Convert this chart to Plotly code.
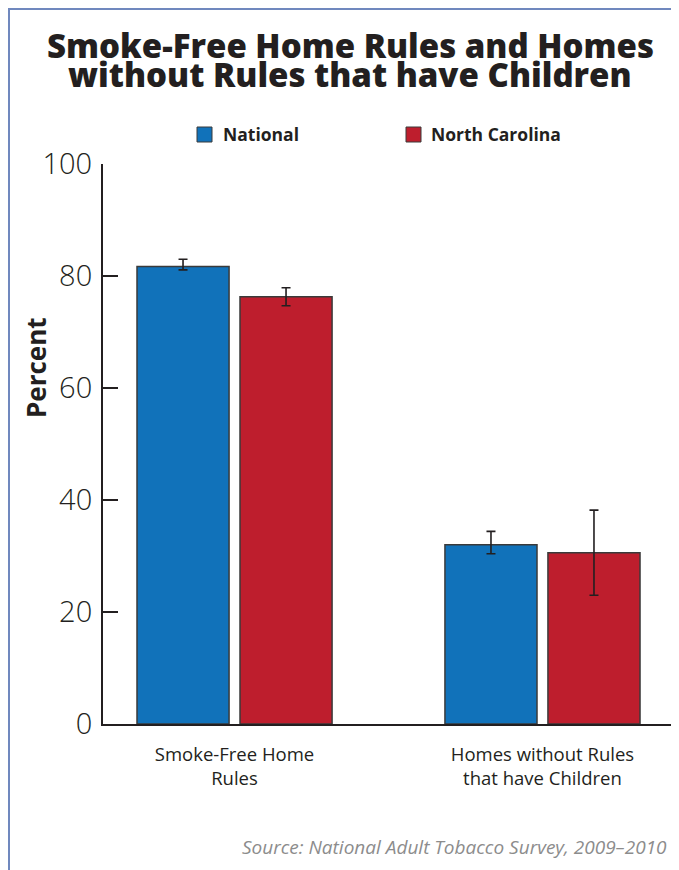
import plotly.graph_objects as go

categories = ["Smoke-Free Home<br>Rules", "Homes without Rules<br>that have Children"]
series_names = ["National", "North Carolina"]
national = [81.7, 32.0]
national_err_plus = [1.3, 2.4]
national_err_minus = [0.6, 1.6]
nc = [76.3, 30.6]
nc_err_plus = [1.6, 7.6]
nc_err_minus = [1.6, 7.6]
y_ticks = [0, 20, 40, 60, 80, 100]
title_lines = ["Smoke-Free Home Rules and Homes", "without Rules that have Children"]

BLUE = "#1172BA"
RED = "#BE1E2D"
DARK = "#231F20"
FONT = "Open Sans"

OFF = 8  # page body margin
W, H = 679 - OFF, 870 - OFF
# reference pixel coords of plot area
PL, PR, PT, PB = 103, 673, 164, 724
L, R, T, B = PL - OFF, 679 - PR, PT - OFF, 870 - PB
pw, ph = PR - PL, PB - PT

def px(x):
    return (x - PL) / pw

def py(y):
    return (PB - y) / ph

fig = go.Figure()
bar_w = 0.299
offsets = [-0.3166, 0.0179]
for name, vals, ep, em, col, off in [
    (series_names[0], national, national_err_plus, national_err_minus, BLUE, offsets[0]),
    (series_names[1], nc, nc_err_plus, nc_err_minus, RED, offsets[1]),
]:
    fig.add_trace(go.Bar(
        x=categories, y=vals, name=name, width=bar_w, offset=off,
        marker=dict(color=col, line=dict(color="#3a3a3a", width=1.5)),
        error_y=dict(type="data", symmetric=False, array=ep, arrayminus=em,
                     color=DARK, thickness=1.6, width=4.5),
        showlegend=False,
    ))

fig.update_layout(
    width=W, height=H,
    margin=dict(l=L, r=R, t=T, b=B, pad=0),
    paper_bgcolor="white", plot_bgcolor="white",
    barmode="overlay",
    font=dict(family=FONT, color=DARK),
    xaxis=dict(type="category", range=[-0.427, 1.424], showgrid=False,
               showline=True, linecolor=DARK, linewidth=2, ticks="",
               tickfont=dict(size=18.5, color=DARK), ticklabelstandoff=13,
               zeroline=False, fixedrange=True),
    yaxis=dict(range=[0, 100], tickvals=y_ticks, showgrid=False, zeroline=False,
               showline=True, linecolor=DARK, linewidth=2,
               ticks="inside", ticklen=15, tickwidth=2, tickcolor=DARK,
               tickfont=dict(size=29, color=DARK, weight=300), ticklabelstandoff=3,
               fixedrange=True),
)

shapes = []
# frame lines
shapes.append(dict(type="line", xref="paper", yref="paper", x0=px(9), x1=px(9),
                   y0=py(8), y1=py(H + 20), line=dict(color="#7088BE", width=2)))
shapes.append(dict(type="line", xref="paper", yref="paper", x0=px(8), x1=px(W + 20),
                   y0=py(9), y1=py(9), line=dict(color="#7088BE", width=2)))
# right end tick of x axis
shapes.append(dict(type="line", xref="paper", yref="paper", x0=1, x1=1,
                   y0=0, y1=py(710), line=dict(color=DARK, width=2)))
# legend squares
for x0, col in [(197, BLUE), (406, RED)]:
    shapes.append(dict(type="rect", xref="paper", yref="paper",
                       x0=px(x0), x1=px(x0 + 15), y0=py(142), y1=py(127),
                       fillcolor=col, line=dict(color="#3a3a3a", width=1)))
fig.update_layout(shapes=shapes)

ann = []
for line, yc in zip(title_lines, [45, 75]):
    ann.append(dict(text=line, xref="paper", yref="paper", x=px(350), y=py(yc),
                    xanchor="center", yanchor="middle", showarrow=False,
                    font=dict(size=33, color=DARK, family=FONT, weight=800)))
for x0, name in [(221, series_names[0]), (429, series_names[1])]:
    ann.append(dict(text="<b>" + name + "</b>", xref="paper", yref="paper",
                    x=px(x0), y=py(134), xanchor="left", yanchor="middle",
                    showarrow=False, font=dict(size=17.5, color=DARK, family=FONT)))
ann.append(dict(text="<b>Percent</b>", xref="paper", yref="paper", x=px(36), y=py(368),
                xanchor="center", yanchor="middle", textangle=-90, showarrow=False,
                font=dict(size=26, color=DARK, family=FONT)))
ann.append(dict(text="<i>Source: National Adult Tobacco Survey, 2009\u20132010</i>",
                xref="paper", yref="paper", x=px(669), y=py(847), xanchor="right",
                yanchor="middle", showarrow=False,
                font=dict(size=19, color="#8C8C8C", family=FONT)))
fig.update_layout(annotations=ann)

fig.write_html("out.html")
